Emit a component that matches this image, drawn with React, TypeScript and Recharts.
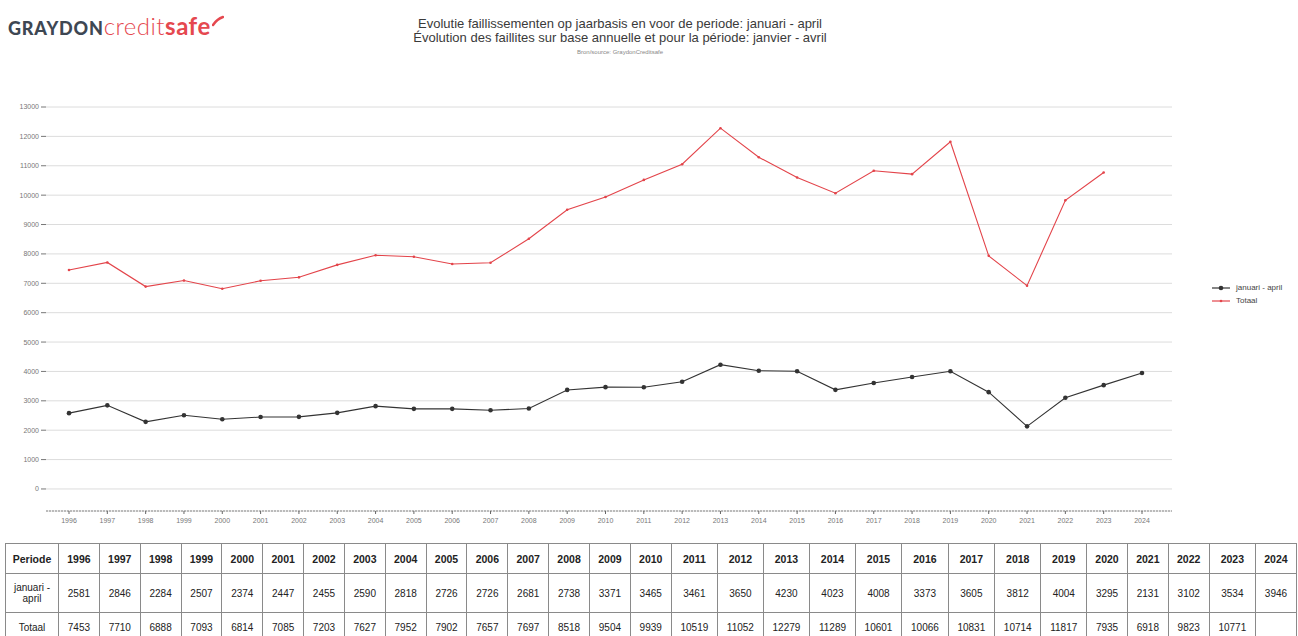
import React from "react";
import { LineChart, Line, XAxis, YAxis, CartesianGrid } from "recharts";

const years = [1996, 1997, 1998, 1999, 2000, 2001, 2002, 2003, 2004, 2005, 2006, 2007, 2008, 2009, 2010, 2011, 2012, 2013, 2014, 2015, 2016, 2017, 2018, 2019, 2020, 2021, 2022, 2023, 2024];
const januariApril = [2581, 2846, 2284, 2507, 2374, 2447, 2455, 2590, 2818, 2726, 2726, 2681, 2738, 3371, 3465, 3461, 3650, 4230, 4023, 4008, 3373, 3605, 3812, 4004, 3295, 2131, 3102, 3534, 3946];
const totaal: (number | null)[] = [7453, 7710, 6888, 7093, 6814, 7085, 7203, 7627, 7952, 7902, 7657, 7697, 8518, 9504, 9939, 10519, 11052, 12279, 11289, 10601, 10066, 10831, 10714, 11817, 7935, 6918, 9823, 10771, null];
const yTicks = [0, 1000, 2000, 3000, 4000, 5000, 6000, 7000, 8000, 9000, 10000, 11000, 12000, 13000];
const seriesNames = ["januari - april", "Totaal"];
const titleLines = [
  "Evolutie faillissementen op jaarbasis en voor de periode: januari - april",
  "Évolution des faillites sur base annuelle et pour la période: janvier - avril",
];
const sourceText = "Bron/source: GraydonCreditsafe";

const data = years.map((y, i) => ({ year: String(y), ja: januariApril[i], tot: totaal[i] }));

const BLACK = "#333333";
const RED = "#e3444a";
const FONT = "'Liberation Sans', Arial, sans-serif";

const cellBase: React.CSSProperties = {
  border: "1px solid #8a8a8a",
  padding: "0 8.8px",
  textAlign: "center",
  whiteSpace: "nowrap",
};

export default function App() {
  return (
    <div style={{ position: "absolute", left: 0, top: 0, width: 1298, height: 636, overflow: "hidden", background: "#fff", fontFamily: FONT }}>
      {/* logo */}
      <div style={{ position: "absolute", left: 8, top: 13, lineHeight: "26px", whiteSpace: "nowrap", fontFamily: "Lato, 'Liberation Sans', sans-serif" }}>
        <span style={{ fontWeight: 900, color: "#3e4753", fontSize: 18, letterSpacing: 0.8 }}>GRAYDON</span>
        <span style={{ fontWeight: 300, color: "#e5484f", fontSize: 24, letterSpacing: 0.5 }}>credit</span>
        <span style={{ fontWeight: 700, color: "#e5484f", fontSize: 24, letterSpacing: 0.5 }}>safe</span>
        <svg width={12} height={12} style={{ position: "relative", top: -8, left: 1 }}>
          <path d="M1 10 Q5 4 11 2" stroke="#e5484f" strokeWidth={2.5} fill="none" strokeLinecap="round" />
        </svg>
      </div>
      {/* titles */}
      <div style={{ position: "absolute", left: 0, width: 1240, top: 17, textAlign: "center", color: "#3a3a3a", fontSize: 13, lineHeight: "14px" }}>
        <div>{titleLines[0]}</div>
        <div>{titleLines[1]}</div>
        <div style={{ fontSize: 6, lineHeight: "10px", marginTop: 2, color: "#888" }}>{sourceText}</div>
      </div>
      <div style={{ position: "absolute", left: 0, top: 0 }}>
        <LineChart width={1298} height={539} data={data} margin={{ top: 107, right: 126, bottom: 8, left: 0 }}>
          <CartesianGrid vertical={false} stroke="#dcdcdc" strokeWidth={1} />
          <XAxis
            dataKey="year"
            padding={{ left: 23, right: 30 }}
            height={20}
            axisLine={{ stroke: "#aaa", strokeWidth: 1.5, strokeDasharray: "2 1" }}
            tickLine={{ stroke: "#666" }}
            tickSize={3}
            tick={{ fontSize: 7, fill: "#777", fontFamily: FONT, dy: 2 }}
            interval={0}
          />
          <YAxis
            domain={[-750, 13000]}
            ticks={yTicks}
            width={46}
            axisLine={false}
            tickLine={{ stroke: "#777" }}
            tickSize={5}
            tick={{ fontSize: 7, fill: "#777", fontFamily: FONT }}
            allowDataOverflow
          />
          <Line dataKey="ja" name={seriesNames[0]} stroke={BLACK} strokeWidth={1.1} dot={{ r: 2.3, fill: BLACK, stroke: "none" }} isAnimationActive={false} />
          <Line dataKey="tot" name={seriesNames[1]} stroke={RED} strokeWidth={1.1} dot={{ r: 1.3, fill: RED, stroke: "none" }} isAnimationActive={false} connectNulls={false} />
        </LineChart>
      </div>
      {/* legend */}
      <div style={{ position: "absolute", left: 1211, top: 281, fontFamily: FONT, fontSize: 8, color: "#444" }}>
        {[{ n: seriesNames[0], c: BLACK, r: 2.3 }, { n: seriesNames[1], c: RED, r: 1.3 }].map((s) => (
          <div key={s.n} style={{ display: "flex", alignItems: "center", height: 13, whiteSpace: "nowrap" }}>
            <svg width={20} height={8} style={{ marginRight: 5 }}>
              <line x1={1} y1={4} x2={19} y2={4} stroke={s.c} strokeWidth={1.2} />
              <circle cx={10} cy={4} r={s.r} fill={s.c} />
            </svg>
            <span>{s.n}</span>
          </div>
        ))}
      </div>
      {/* table */}
      <table style={{ position: "absolute", left: 5, top: 543, borderCollapse: "collapse", fontSize: 10, color: "#222", fontFamily: FONT }}>
        <tbody>
          <tr style={{ height: 30 }}>
            <td style={{ ...cellBase, fontWeight: 700, fontSize: 10.5, padding: "0 6px", width: 40 }}>Periode</td>
            {years.map((y) => (
              <td key={y} style={{ ...cellBase, fontWeight: 700, fontSize: 10.5, padding: "0 7.5px" }}>{y}</td>
            ))}
          </tr>
          <tr style={{ height: 39 }}>
            <td style={{ ...cellBase, whiteSpace: "normal", lineHeight: "11px", padding: "0 2px", fontSize: 10 }}>januari - april</td>
            {januariApril.map((v, i) => (
              <td key={i} style={cellBase}>{v}</td>
            ))}
          </tr>
          <tr style={{ height: 30 }}>
            <td style={cellBase}>Totaal</td>
            {totaal.map((v, i) => (
              <td key={i} style={cellBase}>{v === null ? "" : v}</td>
            ))}
          </tr>
        </tbody>
      </table>
    </div>
  );
}
